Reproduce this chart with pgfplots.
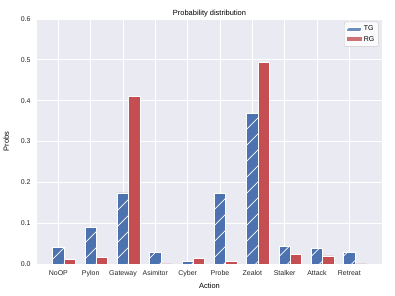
\documentclass[border=0pt]{standalone}
\usepackage{pgfplots}
\pgfplotsset{compat=1.18}
\usepackage{fontspec}
\setmainfont{Liberation Sans}
\usetikzlibrary{patterns.meta}
\definecolor{tgblue}{RGB}{76,114,176}
\definecolor{rgred}{RGB}{196,78,82}
\definecolor{bgc}{RGB}{234,234,242}
\tikzset{hatchw/.style={pattern={Lines[angle=45,distance=11.3bp,line width=0.7bp]},pattern color=white}}
\begin{document}
\begin{tikzpicture}
\begin{axis}[
  width=345bp, height=245bp, scale only axis,
  xmin=-0.66, xmax=10.01, ymin=0, ymax=0.6,
  axis background/.style={fill=bgc},
  axis line style={draw=none},
  major tick length=0pt,
  grid=major, grid style={white, line width=0.9bp},
  xtick={0,1,2,3,4,5,6,7,8,9},
  xticklabels={NoOP,Pylon,Gateway,Asimitor,Cyber,Probe,Zealot,Stalker,Attack,Retreat},
  ytick={0,0.1,0.2,0.3,0.4,0.5,0.6},
  yticklabel style={/pgf/number format/fixed,/pgf/number format/precision=1,/pgf/number format/fixed zerofill, xshift=-3bp},
  xticklabel style={yshift=-3bp},
  /pgf/number format/assume math mode=true,
  tick label style={font=\fontsize{7}{8}\selectfont, text=black!85},
  xlabel={Action}, ylabel={Probs},
  xlabel style={yshift=1bp},
  ylabel style={yshift=5bp},
  label style={font=\fontsize{7.5}{9}\selectfont},
  title={Probability distribution},
  title style={font=\fontsize{7.5}{9}\selectfont, yshift=-8bp},
  legend style={at={(0.99,0.989)}, anchor=north east, draw=black!20, fill=white, fill opacity=0.8, text opacity=1, rounded corners=2bp, font=\fontsize{7}{8}\selectfont, row sep=0bp, inner sep=2bp, nodes={inner sep=2bp}},
  legend cell align=left,
]
\addplot[ybar, bar width=0.35, bar shift=0pt, fill=tgblue, draw=white, line width=0.6bp,
  postaction={hatchw},
  legend image code/.code={\fill[tgblue, sharp corners, draw=none] (0bp,-2bp) rectangle (15bp,2bp); \fill[hatchw, sharp corners, draw=none] (0bp,-2bp) rectangle (15bp,2bp);}]
coordinates {(0,0.040) (1,0.090) (2,0.174) (3,0.028) (4,0.007) (5,0.173) (6,0.368) (7,0.044) (8,0.039) (9,0.028)};
\addlegendentry{TG}
\addplot[ybar, bar width=0.35, bar shift=0pt, fill=rgred, draw=white, line width=0.6bp,
  legend image code/.code={\fill[rgred, sharp corners, draw=none] (0bp,-2bp) rectangle (15bp,2bp);}]
coordinates {(0.35,0.0105) (1.35,0.0155) (2.35,0.410) (3.35,0.0) (4.35,0.013) (5.35,0.0057) (6.35,0.494) (7.35,0.023) (8.35,0.020) (9.35,0.0)};
\addlegendentry{RG}
\end{axis}
\pgfresetboundingbox
\path[use as bounding box] ([shift={(-37bp,-32bp)}]current axis.south west) rectangle ([shift={(13bp,19bp)}]current axis.north east);
\end{tikzpicture}
\end{document}
